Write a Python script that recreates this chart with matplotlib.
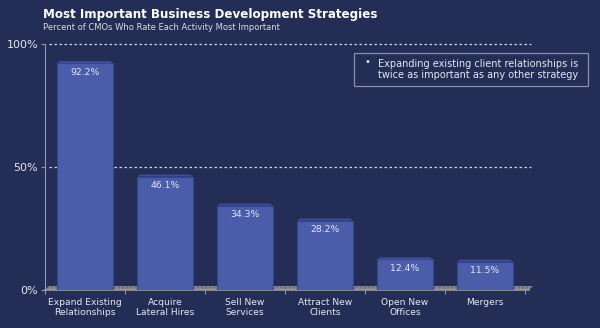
import matplotlib.pyplot as plt
from matplotlib.patches import Rectangle, Polygon

categories = ["Expand Existing\nRelationships", "Acquire\nLateral Hires", "Sell New\nServices",
              "Attract New\nClients", "Open New\nOffices", "Mergers"]
values = [92.2, 46.1, 34.3, 28.2, 12.4, 11.5]
yticks = [0, 50, 100]
yticklabels = ["0%", "50%", "100%"]

bg = "#232d55"
bar_color = "#4b5cab"
edge_color = "#34448e"
text_color = "#e6e8f0"

fig = plt.figure(figsize=(6, 3.28), dpi=100, facecolor=bg)
ax = fig.add_axes([0.075, 0.116, 0.80, 0.75], facecolor=bg)

x = list(range(len(categories)))
w = 0.69
ax.bar(x, values, width=w, color=bar_color, edgecolor=edge_color, linewidth=0.8, zorder=3)

# top face of each bar for a slight 3D look
for xi, v in zip(x, values):
    top = Polygon([(xi - w / 2, v), (xi + w / 2, v), (xi + w / 2 - 0.03, v + 0.8),
                   (xi - w / 2 + 0.03, v + 0.8)], closed=True,
                  facecolor="#3e4e9c", edgecolor="none", zorder=4, clip_on=False)
    ax.add_patch(top)
    ax.text(xi, v - 1.8, f"{v}%", ha="center", va="top", color=text_color,
            fontsize=6.7, zorder=5)

# grey floor band
floor = Polygon([(-0.5, 0), (5.55, 0), (5.6, 1.6), (-0.45, 1.6)], closed=True,
                facecolor="#8a8a8a", edgecolor="#6f6f6f", hatch="....", linewidth=0.0,
                zorder=2, clip_on=False)
ax.add_patch(floor)
ax.plot([-0.5, 5.55], [0, 0], color="#9a9a9a", lw=1.2, zorder=2, clip_on=False)

# dotted gridlines
for yv in [50, 100]:
    ax.plot([-0.45, 5.57], [yv, yv], color="#d0d4e4", lw=0.9, ls=(0, (2, 2)),
            zorder=1, clip_on=False)

ax.set_xlim(-0.5, 5.5)
ax.set_ylim(0, 100)
ax.set_yticks(yticks)
ax.set_yticklabels(yticklabels, color=text_color, fontsize=8)
ax.set_xticks([i + 0.5 for i in range(-1, 6)], minor=False)
ax.set_xticklabels([])
ax.set_xticks(x, minor=True)
ax.set_xticklabels(categories, minor=True, color=text_color, fontsize=6.6, linespacing=1.15)
ax.tick_params(axis="x", which="minor", length=0, pad=6)
ax.tick_params(axis="x", which="major", length=3, color="#9a9a9a", width=0.8)
ax.tick_params(axis="y", length=3, color="#9a9a9a", width=0.8, pad=2)

for s in ["top", "right", "bottom"]:
    ax.spines[s].set_visible(False)
ax.spines["left"].set_color("#9a9aa8")
ax.spines["left"].set_linewidth(0.8)

fig.text(0.072, 0.955, "Most Important Business Development Strategies", color="white",
         fontsize=8.6, fontweight="bold", va="center", ha="left")
fig.text(0.072, 0.915, "Percent of CMOs Who Rate Each Activity Most Important", color="#d8dbe6",
         fontsize=6.0, va="center", ha="left")

# callout box
fig.patches.append(Rectangle((0.59, 0.737), 0.39, 0.101, transform=fig.transFigure,
                             facecolor=bg, edgecolor="#8a90ae", linewidth=0.9, zorder=5))
fig.text(0.607, 0.81, "\u2022", color=text_color, fontsize=7, va="center", zorder=6)
fig.text(0.630, 0.788, "Expanding existing client relationships is\ntwice as important as any other strategy",
         color=text_color, fontsize=7.0, va="center", ha="left", linespacing=1.2, zorder=6)

fig.savefig("out.png", dpi=100, facecolor=bg)
